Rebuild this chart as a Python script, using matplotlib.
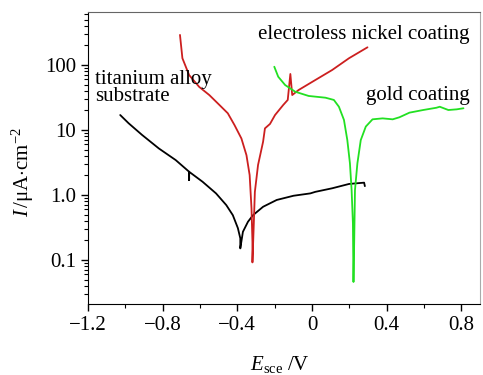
import numpy as np
import matplotlib
matplotlib.use("Agg")
from matplotlib import pyplot as plt
from matplotlib.ticker import FixedLocator, LogLocator, NullFormatter, FixedFormatter

plt.rcParams["font.family"] = ["Liberation Serif", "DejaVu Serif"]
plt.rcParams["mathtext.fontset"] = "custom"
plt.rcParams["mathtext.rm"] = "Liberation Serif"
plt.rcParams["mathtext.it"] = "Liberation Serif:italic"

# titanium alloy substrate (black)
ti_E = [-1.027, -0.982, -0.910, -0.820, -0.730, -0.658, -0.658, -0.658, -0.586, -0.514,
        -0.459, -0.424, -0.397, -0.384, -0.384, -0.370, -0.343, -0.316, -0.262, -0.189,
        -0.099, -0.009, 0.018, 0.108, 0.198, 0.279, 0.283]
ti_I = [17.0, 12.7, 8.4, 5.2, 3.45, 2.28, 1.70, 2.28, 1.60, 1.06,
        0.70, 0.49, 0.31, 0.216, 0.151, 0.272, 0.388, 0.49, 0.66, 0.84,
        0.975, 1.06, 1.12, 1.27, 1.48, 1.55, 1.37]

# electroless nickel coating (red)
ni_E = [-0.707, -0.694, -0.658, -0.604, -0.550, -0.496, -0.451, -0.415, -0.378, -0.351,
        -0.334, -0.324, -0.319, -0.319, -0.312, -0.306, -0.289, -0.262, -0.252, -0.225,
        -0.198, -0.154, -0.130, -0.116, -0.106, -0.072, 0.018, 0.108, 0.198, 0.297]
ni_I = [290, 127, 70, 46, 34.5, 24.3, 18.1, 11.9, 7.4, 4.1,
        2.03, 0.62, 0.191, 0.092, 0.345, 1.12, 2.9, 6.6, 10.6, 12.4,
        17.0, 24.3, 29, 72.8, 34.5, 41.2, 58.8, 83.8, 127, 187]

# gold coating (green)
au_E = [-0.202, -0.181, -0.144, -0.090, -0.018, 0.072, 0.117, 0.144, 0.171, 0.189,
        0.203, 0.212, 0.219, 0.222, 0.226, 0.230, 0.243, 0.261, 0.288, 0.324,
        0.378, 0.432, 0.468, 0.522, 0.595, 0.666, 0.684, 0.730, 0.775, 0.811]
au_I = [94, 66, 49.2, 38.8, 33.4, 31.4, 29, 22.8, 14.3, 7.0,
        3.08, 1.19, 0.367, 0.046, 0.203, 1.19, 3.08, 7.0, 11.3, 14.6,
        15.1, 14.6, 15.7, 18.5, 20.3, 22.0, 22.8, 20.3, 20.8, 21.6]

x_ticks = [-1.2, -0.8, -0.4, 0, 0.4, 0.8]
x_labels = ["\u22121.2", "\u22120.8", "\u22120.4", "0", "0.4", "0.8"]
y_ticks = [0.1, 1, 10, 100]
y_labels = ["0.1", "1.0", "10", "100"]

fig = plt.figure(figsize=(4.83, 3.75), dpi=100)
ax = fig.add_axes([0.182, 0.189, 0.812, 0.779])

line_kw = dict(lw=1.3, solid_joinstyle="round", solid_capstyle="round")
ax.plot(ti_E, ti_I, color="black", **line_kw)
ax.plot(ni_E, ni_I, color="#cc1f1f", **line_kw)
ax.plot(au_E, au_I, color="#22e022", **line_kw)

ax.set_yscale("log")
ax.set_xlim(-1.2, 0.9)
ax.set_ylim(0.021, 653)

ax.xaxis.set_major_locator(FixedLocator(x_ticks))
ax.xaxis.set_major_formatter(FixedFormatter(x_labels))
ax.xaxis.set_minor_locator(FixedLocator(np.arange(-1.0, 0.9, 0.4)))
ax.yaxis.set_major_locator(FixedLocator(y_ticks))
ax.yaxis.set_major_formatter(FixedFormatter(y_labels))
ax.yaxis.set_minor_locator(LogLocator(base=10, subs=np.arange(2, 10)))
ax.yaxis.set_minor_formatter(NullFormatter())

ax.tick_params(which="both", direction="out", top=False, right=False, labelsize=15)
ax.tick_params(which="major", length=5, width=1)
ax.tick_params(which="minor", length=3, width=0.8)
ax.spines["top"].set_color("#666666")
ax.spines["right"].set_color("#aaaaaa")

fig.text(23 / 483, 1 - 172 / 375, r"$I\,/\mathrm{\mu A{\cdot}cm^{-2}}$", fontsize=15,
         rotation=90, ha="center", va="center")
ax.set_xlabel(r"$E_{\mathrm{sce}}\ /\mathrm{V}$", fontsize=15)
ax.xaxis.set_label_coords(0.49, -0.17)

ax.text(-1.16, 44, "titanium alloy\nsubstrate", fontsize=15, va="center", ha="left", linespacing=0.85)
ax.text(0.845, 290, "electroless nickel coating", fontsize=15, va="center", ha="right")
ax.text(0.845, 34.5, "gold coating", fontsize=15, va="center", ha="right")

fig.savefig("out.png", dpi=100)
